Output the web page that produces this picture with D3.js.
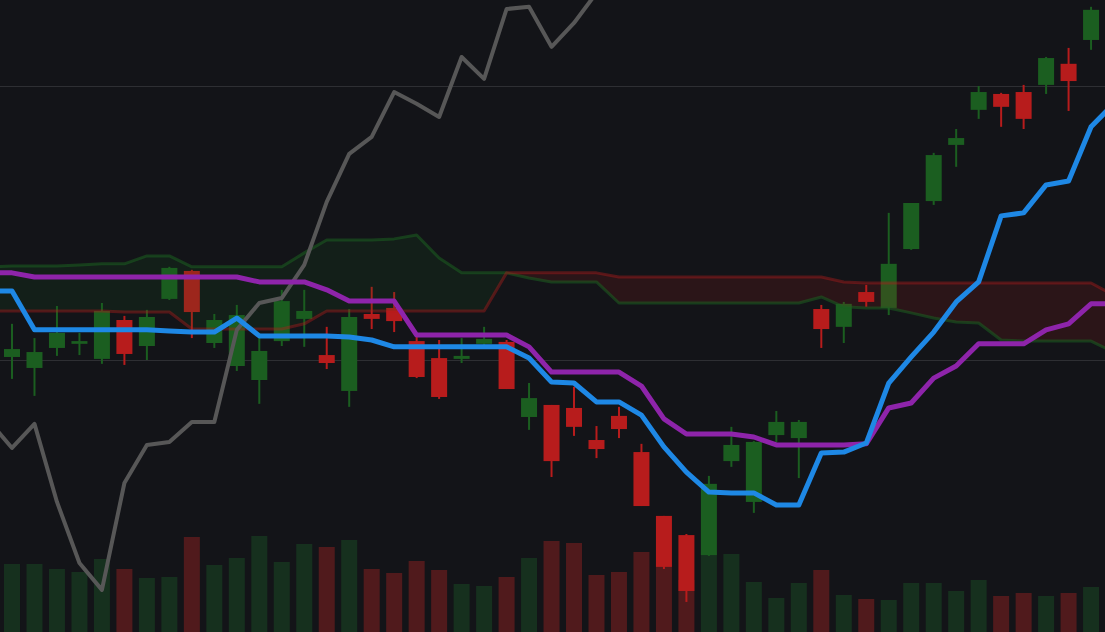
<!DOCTYPE html>
<html>
<head>
  <meta charset="utf-8">
  <title>ichimoku cloud</title>
  <script type="text/javascript" src="https://cdn.jsdelivr.net/npm/d3@7"></script>
  <style>
    html, body { margin: 0; padding: 0; background: #131418; overflow: hidden; }
    #chart { display: block; }
  </style>
</head>
<body>
  <svg id="chart"></svg>
  <script type="text/javascript">
    // candles, index 0 = first visible bar
    var opens = [101.1, 97.1, 104.4, 105.9, 100.4, 114.6, 105.1, 122.3, 132.5, 106.2,
      97.8, 92.7, 106.9, 115.0, 101.8, 88.7, 116.8, 119.0, 106.9, 100.7,
      100.4, 105.9, 106.6, 79.2, 83.6, 82.5, 70.8, 79.6, 66.4, 43.1,
      36.1, 28.8, 63.1, 48.2, 72.6, 71.5, 118.6, 112.1, 124.8, 119.0,
      140.5, 158.0, 178.5, 191.3, 197.1, 197.8, 200.4, 208.1, 216.8];
    var highs = [113.2, 108.0, 119.7, 109.9, 120.8, 116.1, 118.3, 134.0, 132.9, 116.8,
      120.1, 109.9, 125.6, 125.6, 112.1, 118.6, 126.7, 124.8, 108.4, 107.3,
      108.0, 112.1, 107.3, 91.6, 83.6, 90.2, 75.9, 82.9, 69.4, 43.1,
      36.5, 57.7, 75.6, 70.4, 81.4, 78.1, 120.1, 121.2, 127.4, 153.7,
      157.3, 175.6, 184.3, 200.0, 197.5, 200.4, 210.6, 213.9, 228.9];
    var lows = [93.1, 86.9, 101.5, 101.8, 98.6, 98.2, 100.0, 121.9, 108.0, 104.4,
      96.0, 84.0, 105.1, 104.8, 96.7, 82.9, 111.3, 110.2, 93.4, 85.8,
      98.9, 104.8, 89.4, 74.5, 57.3, 72.3, 64.2, 71.5, 46.7, 23.7,
      11.7, 28.5, 61.0, 44.2, 70.1, 56.9, 104.4, 106.2, 119.4, 116.4,
      140.2, 156.6, 170.5, 188.0, 185.1, 184.3, 197.1, 190.9, 213.2];
    var closes = [104.0, 102.9, 109.9, 106.9, 117.9, 102.2, 115.7, 133.6, 117.5, 114.6,
      116.4, 103.3, 121.5, 117.9, 98.9, 115.7, 115.0, 114.2, 93.8, 86.5,
      101.5, 107.7, 89.4, 86.1, 63.1, 75.6, 67.5, 74.8, 46.7, 24.5,
      15.7, 54.8, 69.0, 70.1, 77.4, 77.4, 111.3, 120.5, 121.2, 135.1,
      157.3, 174.8, 181.0, 197.8, 192.4, 188.0, 210.2, 201.8, 227.8];
    var volumes = [1700, 1700, 1575, 1500, 1825, 1575, 1350, 1375, 2375, 1675,
      1850, 2400, 1750, 2200, 2125, 2300, 1575, 1475, 1775, 1550,
      1200, 1150, 1375, 1850, 2275, 2225, 1425, 1500, 2000, 1675,
      1300, 2000, 1950, 1250, 850, 1225, 1550, 925, 825, 800,
      1225, 1225, 1025, 1300, 900, 975, 900, 975, 1125];

    // indicator lines, first value sits at index -1 (just left of the view)
    var lineStart = -1;
    var tenkan = [125.2, 125.2, 111.0, 111.0, 111.0, 111.0, 111.0, 111.0, 110.6, 110.2,
      110.2, 115.3, 108.8, 108.8, 108.8, 108.8, 108.4, 107.3, 104.8, 104.8,
      104.8, 104.8, 104.8, 104.8, 100.7, 92.0, 91.6, 84.7, 84.7, 79.9,
      68.3, 59.1, 51.8, 51.5, 51.5, 47.1, 47.1, 66.1, 66.4, 69.7,
      91.6, 101.1, 110.2, 121.2, 128.5, 152.6, 153.7, 163.9, 165.3, 185.1, 193.5];
    var kijun = [131.8, 131.8, 130.3, 130.3, 130.3, 130.3, 130.3, 130.3, 130.3, 130.3,
      130.3, 130.3, 128.5, 128.5, 128.5, 125.6, 121.5, 121.5, 121.5, 109.1,
      109.1, 109.1, 109.1, 109.1, 104.8, 95.6, 95.6, 95.6, 95.6, 90.5,
      78.5, 73.0, 73.0, 73.0, 71.9, 69.0, 69.0, 69.0, 69.0, 69.4,
      82.5, 84.3, 93.4, 97.8, 105.9, 105.9, 105.9, 111.0, 113.2, 120.5, 120.5];
    var spanA = [134.0, 134.3, 134.3, 134.3, 134.7, 135.1, 135.1, 138.0, 138.0, 134.0,
      134.0, 134.0, 134.0, 134.0, 139.1, 143.8, 143.8, 143.8, 144.2, 145.6,
      137.2, 131.8, 131.8, 131.8, 129.9, 128.5, 128.5, 128.5, 120.8, 120.8,
      120.8, 120.8, 120.8, 120.8, 120.8, 120.8, 120.8, 123.0, 119.4, 119.0,
      119.0, 117.2, 115.3, 113.9, 113.5, 107.3, 106.9, 106.9, 106.9, 106.9, 102.9];
    var spanB = [117.9, 117.9, 117.9, 117.9, 117.9, 117.9, 117.5, 117.5, 117.5, 111.3,
      111.3, 111.3, 111.3, 111.3, 113.2, 117.9, 117.9, 117.9, 117.9, 117.9,
      117.9, 117.9, 117.9, 131.8, 131.8, 131.8, 131.8, 131.8, 130.3, 130.3,
      130.3, 130.3, 130.3, 130.3, 130.3, 130.3, 130.3, 130.3, 128.5, 128.1,
      128.1, 128.1, 128.1, 128.1, 128.1, 128.1, 128.1, 128.1, 128.1, 128.1, 123.7];
    var lagging = [77.5, 67.9, 76.7, 48.2, 25.9, 16.1, 55.1, 69.0, 70.1, 77.4,
      77.4, 111.0, 120.8, 122.6, 134.7, 157.7, 175.2, 181.4, 197.8, 193.5,
      188.7, 210.6, 202.6, 228.1, 228.9, 214.3, 223.0, 234.0];

    var priceTicks = [0, 100, 200];

    var width = 1105, height = 632;
    var upColor = "#1b5e20", downColor = "#b71c1c";

    var svg = d3.select("#chart").attr("width", width).attr("height", height);

    var x = d3.scaleLinear().domain([-0.534, 48.62]).range([0, width]);
    var y = d3.scaleLinear().domain([0, 200]).range([height + 2, 86]);
    var yVol = d3.scaleLinear().domain([0, d3.max(volumes)]).range([height, height - 96]);
    var bodyW = 16;

    function isUp(i) { return closes[i] >= opens[i]; }
    function lx(d, i) { return x(i + lineStart); }

    // grid
    svg.append("g").selectAll("line").data(priceTicks).enter().append("line")
      .attr("x1", 0).attr("x2", width)
      .attr("y1", function (d) { return Math.round(y(d)) + 0.5; })
      .attr("y2", function (d) { return Math.round(y(d)) + 0.5; })
      .style("stroke", "#2e2f33").style("stroke-width", 1);

    // volume
    svg.append("g").selectAll("rect").data(volumes).enter().append("rect")
      .attr("x", function (d, i) { return x(i) - bodyW / 2; })
      .attr("y", function (d) { return yVol(d); })
      .attr("width", bodyW)
      .attr("height", function (d) { return height - yVol(d); })
      .style("fill", function (d, i) { return isUp(i) ? "#16301e" : "#501a1c"; });

    // candles
    var candles = svg.append("g").selectAll("g").data(opens).enter().append("g");
    candles.append("line")
      .attr("x1", function (d, i) { return x(i); })
      .attr("x2", function (d, i) { return x(i); })
      .attr("y1", function (d, i) { return y(highs[i]); })
      .attr("y2", function (d, i) { return y(lows[i]); })
      .style("stroke", function (d, i) { return isUp(i) ? upColor : downColor; })
      .style("stroke-width", 2);
    candles.append("rect")
      .attr("x", function (d, i) { return x(i) - bodyW / 2; })
      .attr("y", function (d, i) { return y(Math.max(opens[i], closes[i])); })
      .attr("width", bodyW)
      .attr("height", function (d, i) { return Math.max(2, Math.abs(y(opens[i]) - y(closes[i]))); })
      .style("fill", function (d, i) { return isUp(i) ? upColor : downColor; });

    // cloud
    var greenCloud = d3.area().x(lx)
      .y0(function (d, i) { return y(spanB[i]); })
      .y1(function (d, i) { return y(Math.max(d, spanB[i])); });
    var redCloud = d3.area().x(lx)
      .y0(function (d, i) { return y(spanA[i]); })
      .y1(function (d, i) { return y(Math.max(d, spanA[i])); });
    svg.append("path").datum(spanA).attr("d", greenCloud)
      .style("fill", upColor).style("fill-opacity", 0.16);
    svg.append("path").datum(spanB).attr("d", redCloud)
      .style("fill", downColor).style("fill-opacity", 0.15);

    var line = d3.line().x(lx).y(function (d) { return y(d); });

    svg.append("path").datum(spanA).attr("d", line)
      .style("fill", "none").style("stroke", upColor).style("stroke-opacity", 0.55)
      .style("stroke-width", 3).style("stroke-linejoin", "round");
    svg.append("path").datum(spanB).attr("d", line)
      .style("fill", "none").style("stroke", downColor).style("stroke-opacity", 0.4)
      .style("stroke-width", 3).style("stroke-linejoin", "round");

    svg.append("path").datum(lagging).attr("d", line)
      .style("fill", "none").style("stroke", "#575757")
      .style("stroke-width", 4).style("stroke-linejoin", "round");
    svg.append("path").datum(kijun).attr("d", line)
      .style("fill", "none").style("stroke", "#8e24aa")
      .style("stroke-width", 5).style("stroke-linejoin", "round");
    svg.append("path").datum(tenkan).attr("d", line)
      .style("fill", "none").style("stroke", "#1e88e5")
      .style("stroke-width", 5).style("stroke-linejoin", "round");
  </script>
</body>
</html>
